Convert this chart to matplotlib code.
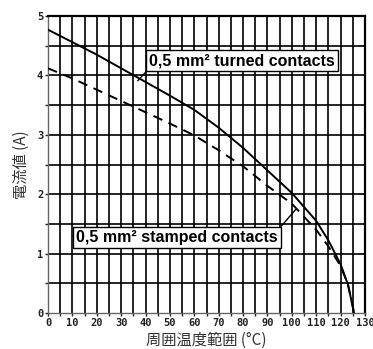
import matplotlib
matplotlib.use("Agg")
import matplotlib.pyplot as plt

plt.rcParams['font.family'] = ['Noto Sans CJK JP', 'DejaVu Sans']

# derating curves, ambient temperature (°C) vs current (A)
temp_turned = [0, 10, 20, 30, 40, 50, 60, 70, 80, 90, 100, 110, 115, 120, 123, 125, 125.5]
amp_turned = [4.77, 4.56, 4.35, 4.12, 3.89, 3.66, 3.42, 3.12, 2.78, 2.40, 2.02, 1.55, 1.22, 0.82, 0.48, 0.10, 0.0]

temp_stamped = [0, 10, 20, 30, 40, 50, 60, 70, 80, 90, 100, 110, 115, 120, 123, 125, 125.5]
amp_stamped = [4.12, 3.95, 3.76, 3.57, 3.38, 3.19, 2.99, 2.74, 2.47, 2.14, 1.84, 1.40, 1.12, 0.79, 0.48, 0.10, 0.0]

x_ticks = list(range(0, 131, 10))
y_ticks = [0, 1, 2, 3, 4, 5]

fig = plt.figure(figsize=(3.73, 3.49), dpi=100)
ax = fig.add_axes([0.1287, 0.1032, 0.8499, 0.8508])

# grid: every 5 °C and every 0.5 A
for gx in range(5, 131, 5):
    ax.axvline(gx, color='black', lw=1.2, zorder=1)
for gy in [0.5 * i for i in range(1, 11)]:
    ax.axhline(gy, color='black', lw=1.2, zorder=1)

ax.plot(temp_turned, amp_turned, color='black', lw=1.4, zorder=3)
ax.plot(temp_stamped, amp_stamped, color='black', lw=1.4, ls=(0, (5, 3.5)), zorder=3)

ax.set_xlim(0, 130)
ax.set_ylim(0, 5)
ax.set_xticks(x_ticks)
ax.set_yticks(y_ticks)
ax.set_xticks(range(5, 131, 10), minor=True)
ax.set_yticks([0.5, 1.5, 2.5, 3.5, 4.5], minor=True)
ax.tick_params(which='both', direction='out', length=2, width=1, pad=1.5, colors='#222222')
ax.set_xticklabels([str(t) for t in x_ticks], family='DejaVu Sans Mono', weight='bold', fontsize=7.5)
ax.set_yticklabels([str(t) for t in y_ticks], family='DejaVu Sans Mono', weight='bold', fontsize=7.5)

for side in ['left', 'bottom']:
    ax.spines[side].set_color('#666666')
    ax.spines[side].set_linewidth(1.0)
for side in ['top', 'right']:
    ax.spines[side].set_linewidth(1.6)

ax.set_xlabel('周囲温度範囲 (°C)', fontsize=11, color='#333333', labelpad=3)
ax.set_ylabel('電流値 (A)', fontsize=11, color='#333333', labelpad=5)

box = dict(boxstyle='square,pad=0.2', fc='white', ec='black', lw=1.0)
ax.annotate('0,5 mm² turned contacts', xy=(36.8, 3.91), xytext=(41.6, 4.25),
            family='Liberation Sans', weight='bold', fontsize=11.5, ha='left', va='center',
            bbox=box, arrowprops=dict(arrowstyle='-', color='black', lw=1.0, shrinkA=0, shrinkB=0,
                                      relpos=(0.0, 0.0)),
            zorder=5)
ax.annotate('0,5 mm² stamped contacts', xy=(101.5, 1.74), xytext=(11.6, 1.27),
            family='Liberation Sans', weight='bold', fontsize=11.5, ha='left', va='center',
            bbox=box, arrowprops=dict(arrowstyle='-', color='black', lw=1.0, shrinkA=0, shrinkB=0,
                                      relpos=(1.0, 1.0)),
            zorder=5)

fig.savefig('out.png', dpi=100)
